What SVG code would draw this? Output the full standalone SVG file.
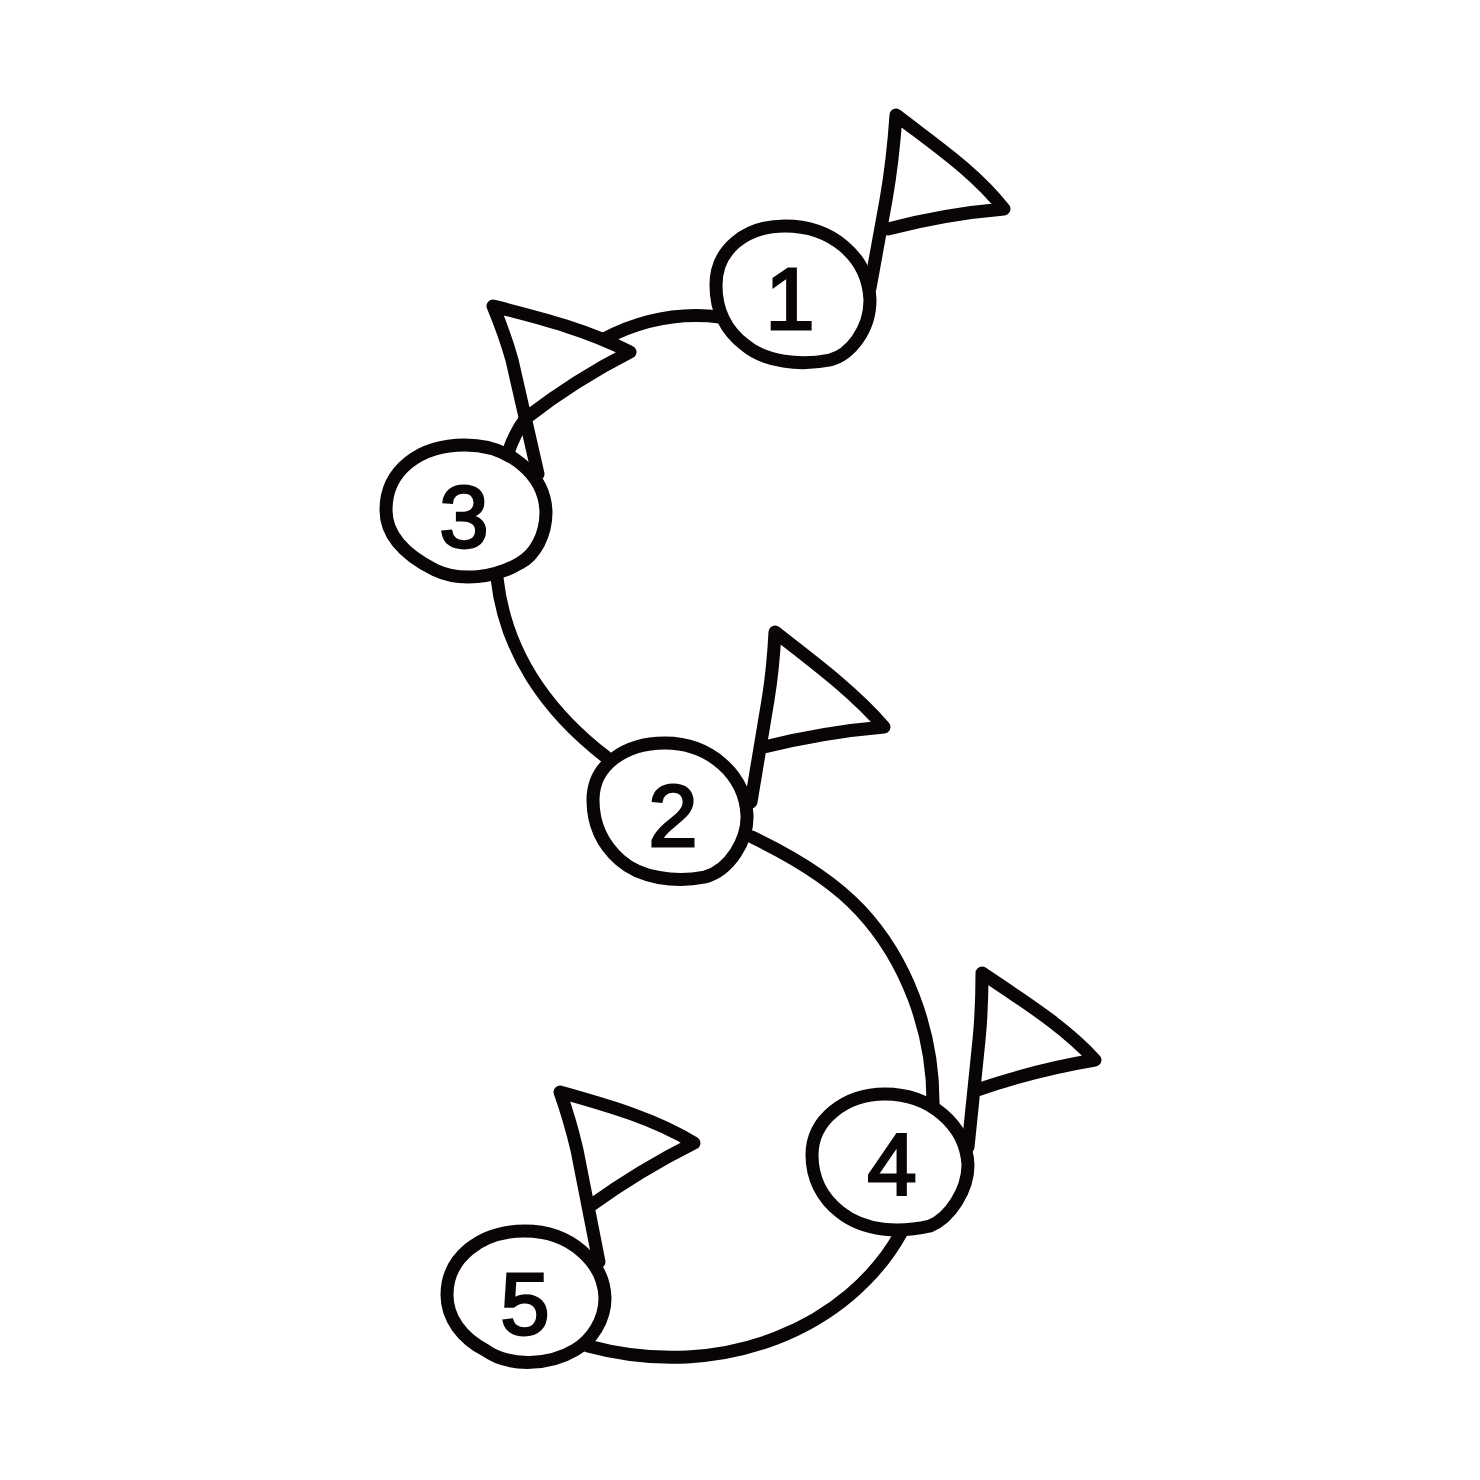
<svg xmlns="http://www.w3.org/2000/svg" width="1480" height="1480" viewBox="0 0 1480 1480">
<style>
.s{fill:none;stroke:#0a0505;stroke-width:13;stroke-linecap:round;stroke-linejoin:round}
.w{fill:#fff;stroke:#0a0505;stroke-width:13;stroke-linecap:round;stroke-linejoin:round}
.t{font-family:"Liberation Sans",sans-serif;font-size:88px;fill:#0a0505;stroke:#0a0505;stroke-width:3;text-anchor:middle}
</style>
<rect width="1480" height="1480" fill="#fff"/>
<g id="connectors">
<path class="s" d="M720 317C680 312 640 320 604 339"/>
<path class="s" d="M526 418Q515 432 508 453"/>
<path class="s" d="M497 578C505 650 545 710 606 757"/>
<path class="s" d="M752 837C800 860 835 883 860 910C905 958 934 1030 933 1106"/>
<path class="s" d="M901 1233C850 1325 725 1383 588 1346"/>
</g>
<g id="flag1"><path class="s" d="M870 288L886 200Q893 160 896 115C935 145 975 172 1004 209Q945 214 888 229"/></g>
<g id="flag3"><path class="s" d="M538 474L512 360Q505 335 493 306C540 318 585 329 630 352Q575 380 526 418"/></g>
<g id="flag2"><path class="s" d="M751 802L768 700Q773 670 775 632C815 663 855 693 884 727Q825 732 764 747"/></g>
<g id="flag4"><path class="s" d="M968 1147L979 1040Q982 1010 982 973C1025 1002 1065 1027 1095 1060Q1035 1070 977 1090"/></g>
<g id="flag5"><path class="s" d="M599 1262L577 1150Q570 1120 560 1092C610 1106 655 1119 694 1143Q640 1170 590 1206"/></g>
<g id="node1"><path class="s" d="M716 285C716 250 745 226 785 226C830 226 868 255 870 300C870 330 850 355 830 360C800 366 765 362 745 345C725 330 716 310 716 285Z"/><text class="t" x="790" y="329">1</text></g>
<g id="node3"><path class="s" d="M386 510C386 470 420 445 465 445C510 445 545 475 546 512C546 535 535 555 520 563C495 578 460 582 435 570C405 555 386 535 386 510Z"/><text class="t" x="464" y="547">3</text></g>
<g id="node2"><path class="s" d="M593 800C593 765 625 743 665 743C710 743 745 775 747 815C748 840 730 870 705 877C675 883 640 878 620 860C603 845 593 825 593 800Z"/><text class="t" x="673" y="846">2</text></g>
<g id="node4"><path class="s" d="M812 1155C812 1120 845 1094 885 1094C930 1094 966 1125 968 1165C968 1190 950 1218 930 1226C900 1233 865 1232 840 1212C822 1198 812 1178 812 1155Z"/><text class="t" x="892" y="1195">4</text></g>
<g id="node5"><path class="s" d="M447 1295C447 1258 480 1231 525 1231C570 1231 604 1262 605 1298C605 1320 592 1340 575 1350C550 1365 510 1368 485 1350C462 1338 447 1318 447 1295Z"/><text class="t" x="525" y="1334">5</text></g>
</svg>
